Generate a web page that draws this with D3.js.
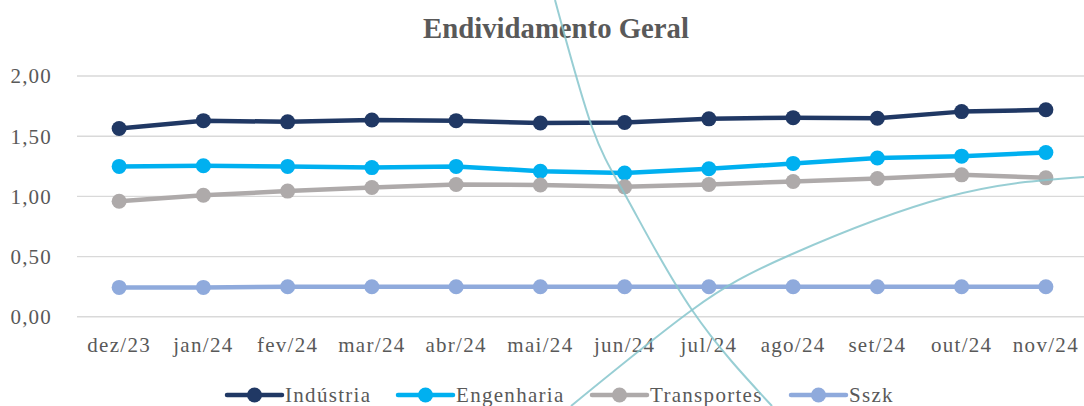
<!DOCTYPE html>
<html>
<head>
<meta charset="utf-8">
<script src="https://cdn.jsdelivr.net/npm/d3@7"></script>
<style>
  html, body { margin: 0; padding: 0; background: #ffffff; }
  svg { display: block; }
</style>
</head>
<body>
<svg id="chart" width="1084" height="406"></svg>
<script>
// ---- data ----
const categories = ["dez/23","jan/24","fev/24","mar/24","abr/24","mai/24","jun/24","jul/24","ago/24","set/24","out/24","nov/24"];
const industria   = [1.56, 1.625, 1.615, 1.63, 1.625, 1.605, 1.61, 1.64, 1.65, 1.645, 1.70, 1.715];
const engenharia  = [1.245, 1.25, 1.245, 1.235, 1.245, 1.205, 1.19, 1.225, 1.27, 1.315, 1.33, 1.36];
const transportes = [0.955, 1.005, 1.04, 1.07, 1.095, 1.09, 1.075, 1.095, 1.12, 1.145, 1.175, 1.15];
const sszk        = [0.24, 0.24, 0.245, 0.245, 0.245, 0.245, 0.245, 0.245, 0.245, 0.245, 0.245, 0.245];
const seriesNames = ["Indústria", "Engenharia", "Transportes", "Sszk"];
const yTicks = [0, 0.5, 1, 1.5, 2];
const titleText = "Endividamento Geral";

const series = [
  { name: seriesNames[0], values: industria,   color: "#203864" },
  { name: seriesNames[1], values: engenharia,  color: "#00b0f0" },
  { name: seriesNames[2], values: transportes, color: "#aeaaaa" },
  { name: seriesNames[3], values: sszk,        color: "#8faadc" }
];

const FONT = "'Liberation Serif', 'DejaVu Serif', serif";
const svg = d3.select("#chart");

const x = d3.scaleBand().domain(categories).range([77, 1088]).padding(0);
const xc = d => x(d) + x.bandwidth() / 2;
const y = d3.scaleLinear().domain([0, 2]).range([316.3, 75.5]);

// gridlines
const grid = svg.append("g").attr("transform", "translate(77,0)")
  .call(d3.axisLeft(y).tickValues(yTicks).tickSize(-1020).tickFormat(""));
grid.select(".domain").remove();
grid.selectAll("line").attr("stroke", "#d9d9d9").attr("stroke-width", 1.4);

// y axis labels
const yAxis = svg.append("g").attr("transform", "translate(52,0)")
  .call(d3.axisLeft(y).tickValues(yTicks).tickSize(0).tickPadding(0)
    .tickFormat(d => d3.format(".2f")(d).replace(".", ",")));
yAxis.select(".domain").remove();
yAxis.selectAll("text")
  .attr("font-family", FONT).attr("font-size", 21).attr("fill", "#595959")
  .attr("letter-spacing", "1.2px").attr("dy", "0.35em");

// x axis labels
const xAxis = svg.append("g").attr("transform", "translate(0,316)")
  .call(d3.axisBottom(x).tickSize(0).tickPadding(0));
xAxis.select(".domain").remove();
xAxis.selectAll("text")
  .attr("font-family", FONT).attr("font-size", 21).attr("fill", "#595959")
  .attr("letter-spacing", "1.3px").attr("y", 36).attr("dy", 0);

// decorative background arcs from the slide (not data)
const deco = d3.line().curve(d3.curveNatural);
const arcA = [[555,0],[592,127],[628,200],[692,310],[772,406]];
const arcB = [[571,406],[692,310],[790,255],[947,197],[1084,177]];

// series lines + markers
const line = d3.line().x((d, i) => xc(categories[i])).y(d => y(d));
series.forEach(s => {
  const g = svg.append("g");
  g.append("path").datum(s.values).attr("d", line)
    .attr("fill", "none").attr("stroke", s.color).attr("stroke-width", 4.5)
    .attr("stroke-linejoin", "round").attr("stroke-linecap", "round");
  g.selectAll("circle").data(s.values).join("circle")
    .attr("cx", (d, i) => xc(categories[i])).attr("cy", d => y(d))
    .attr("r", 7.5).attr("fill", s.color);
});

// title
const title = svg.append("text").attr("x", 556).attr("y", 38)
  .attr("text-anchor", "middle").attr("font-family", FONT)
  .attr("font-weight", "bold").attr("font-size", 28).attr("fill", "#595959")
  .text(titleText);
const tw = title.node().getComputedTextLength();
title.attr("font-size", 28 * 266 / tw);

// legend
const legendX = [227, 398, 592, 791];
const legendY = 395;
series.forEach((s, i) => {
  const g = svg.append("g").attr("transform", `translate(${legendX[i]},${legendY})`);
  g.append("line").attr("x1", 0).attr("x2", 55).attr("y1", 0).attr("y2", 0)
    .attr("stroke", s.color).attr("stroke-width", 4.5).attr("stroke-linecap", "round");
  g.append("circle").attr("cx", 27.5).attr("cy", 0).attr("r", 7.5).attr("fill", s.color);
  g.append("text").attr("x", 58).attr("y", 7)
    .attr("font-family", FONT).attr("font-size", 21).attr("fill", "#595959")
    .attr("letter-spacing", "1.3px").text(s.name);
});

[arcA, arcB].forEach(p => {
  svg.append("path").attr("d", deco(p)).attr("fill", "none")
    .attr("stroke", "#86c5cc").attr("stroke-width", 2).attr("opacity", 0.85);
});
</script>
</body>
</html>
